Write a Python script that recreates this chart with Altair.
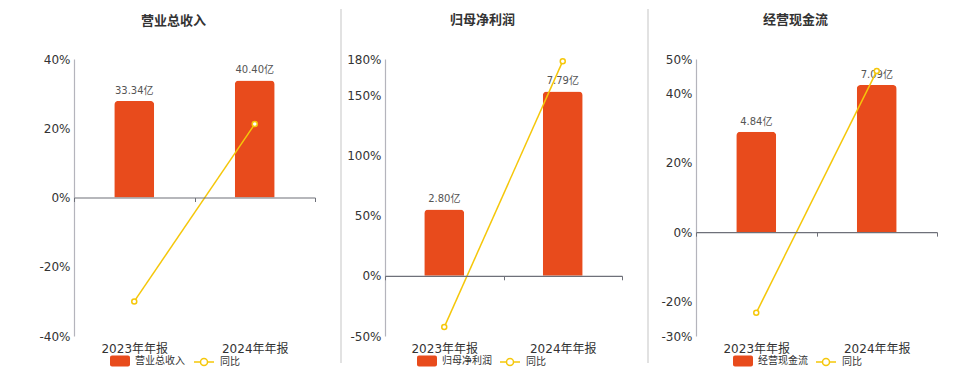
import altair as alt
import pandas as pd

categories = ['2023年年报', '2024年年报']
titles = ['营业总收入', '归母净利润', '经营现金流']
values = [[33.34, 40.40], [2.80, 7.79], [4.84, 7.09]]
yoy = [[-30.0, 21.2], [-42.6, 178.2], [-23.3, 46.5]]
pct_domains = [[-40, 40], [-50, 180], [-30, 50]]
pct_ticks = [[-40, -20, 0, 20, 40], [-50, 0, 50, 100, 150, 180], [-30, -20, 0, 20, 40, 50]]
bar_domains = [[-47.8, 47.8], [-2.55, 9.16], [-5.0, 8.34]]
yoy_name = '同比'

RED = '#E84B1C'
YEL = '#F5C70A'
FONT = 'DejaVu Sans, Noto Sans CJK SC, sans-serif'
H = 277
widths = [241, 237, 241]
extents = [66, 59, 63]
sep_x = [-60, -44, -48]
sep_op = [0, 1, 1]
leg_bar_x = [36, 32, 37]
leg_line_x = [119, 114, 119]
LEG_Y = 292

RECT_PATH = ("M-0.8,-0.55H0.8A0.2,0.2 0 0 1 1,-0.35V0.35A0.2,0.2 0 0 1 0.8,0.55"
             "H-0.8A0.2,0.2 0 0 1 -1,0.35V-0.35A0.2,0.2 0 0 1 -0.8,-0.55Z")
LINE_PATH = ("M-1,0H-0.35M0.35,0H1M0.35,0A0.35,0.35 0 1 1 -0.35,0"
             "A0.35,0.35 0 1 1 0.35,0Z")


def panel(i):
    df = pd.DataFrame({
        'cat': categories,
        'value': values[i],
        'yoy': yoy[i],
        'series': [titles[i]] * len(categories),
        'yname': [yoy_name] * len(categories),
    })
    df['label'] = [f'{v:.2f}亿' for v in values[i]]
    lo, hi = pct_domains[i]
    zero_off = H * (0 - lo) / (hi - lo)

    xenc = alt.X(
        'cat:N', sort=categories, title=None,
        scale=alt.Scale(paddingInner=0, paddingOuter=0),
        axis=alt.Axis(
            offset=-zero_off, domainColor='#6E7079', domainWidth=1.2,
            tickColor='#6E7079', tickSize=4, tickBand='extent',
            labelPadding=zero_off + 3, labelAngle=0, labelFontSize=12,
            labelColor='#333333', labelFont=FONT, labelBaseline='top',
            zindex=1, grid=False,
        ),
    )
    base = alt.Chart(df)
    ybar = alt.Y('value:Q', scale=alt.Scale(domain=bar_domains[i], nice=False, zero=False), axis=None)
    ypct_scale = alt.Scale(domain=pct_domains[i], nice=False, zero=False)

    bars = base.mark_bar(size=40, cornerRadiusTopLeft=4, cornerRadiusTopRight=4).encode(
        x=xenc, y=ybar,
        fill=alt.Fill('series:N', scale=alt.Scale(domain=[titles[i]], range=[RED]),
                      legend=alt.Legend(orient='none', legendX=leg_bar_x[i], legendY=LEG_Y,
                                        title=None, symbolType=RECT_PATH, symbolSize=400,
                                        symbolStrokeWidth=0, labelFontSize=10, labelColor='#333333',
                                        labelFont=FONT, labelOffset=5, padding=0)),
    )
    text = base.mark_text(baseline='bottom', dy=-5, fontSize=10, color='#555555', font=FONT).encode(
        x=xenc, y=ybar, text='label:N')
    line = base.mark_line(strokeWidth=1.5).encode(
        x=xenc,
        y=alt.Y('yoy:Q', scale=ypct_scale, title=None,
                axis=alt.Axis(orient='left', values=pct_ticks[i], labelExpr="datum.value + '%'",
                              labelFontSize=12, labelColor='#333333', labelFont=FONT,
                              ticks=False, labelPadding=4, domainColor='#B4B4BC', domainWidth=1.2,
                              gridColor='#E6EAF2', gridWidth=1, minExtent=extents[i],
                              maxExtent=extents[i])),
        stroke=alt.Stroke('yname:N', scale=alt.Scale(domain=[yoy_name], range=[YEL]),
                          legend=alt.Legend(orient='none', legendX=leg_line_x[i], legendY=LEG_Y,
                                            title=None, symbolType=LINE_PATH, symbolSize=400,
                                            symbolStrokeWidth=1.5, symbolFillColor='white',
                                            labelFontSize=10, labelColor='#333333', labelFont=FONT,
                                            labelOffset=5, padding=0)),
    )
    pts = base.mark_point(shape='circle', size=25, filled=True, fill='white', stroke=YEL,
                          strokeWidth=1.5, opacity=1).encode(
        x=xenc, y=alt.Y('yoy:Q', scale=ypct_scale, axis=None))
    sep = alt.Chart(alt.Data(values=[{}])).mark_rule(
        color='#D9D9D9', strokeWidth=1.5, opacity=sep_op[i]).encode(
        x=alt.value(sep_x[i]), y=alt.value(-50), y2=alt.value(304))

    return alt.layer(bars, text, line, pts, sep).resolve_scale(y='independent').properties(
        width=widths[i], height=H,
        title=alt.TitleParams(text=titles[i], fontSize=13, fontWeight='bold', color='#333333',
                              font=FONT, offset=-19, dx=-21, anchor='middle'),
    )


chart = alt.hconcat(panel(0), panel(1), panel(2), spacing=10).resolve_scale(
    fill='independent', stroke='independent', x='independent'
).properties(padding=0).configure_view(stroke=None)

chart.save('out.html', embed_options={'renderer': 'svg', 'actions': False})
